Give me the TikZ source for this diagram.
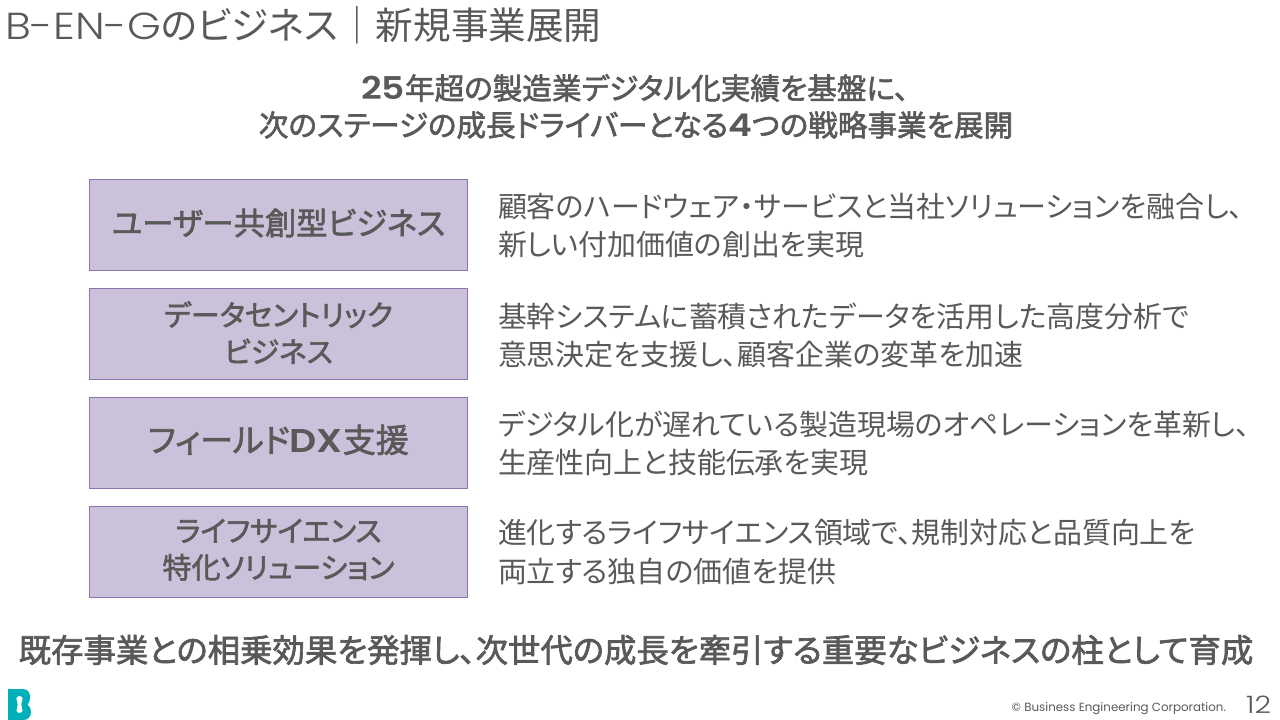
\documentclass[tikz,border=0pt]{standalone}
\usepackage{fontspec}
\setmainfont[RawFeature={+palt}]{Noto Sans CJK JP}
\newfontfamily\medf[RawFeature={+palt},FakeBold=2]{Noto Sans CJK JP}
\newfontfamily\latinf{Poppins}
\newfontfamily\latinl[FakeStretch=1.15]{Poppins Light}
\newfontfamily\latinp[FakeStretch=1.2]{Poppins Light}
\newfontfamily\latinb[FakeStretch=1.15]{Poppins SemiBold}
\definecolor{txt}{HTML}{595959}
\definecolor{boxf}{HTML}{CCC1DA}
\definecolor{boxd}{HTML}{8C75AD}
\definecolor{logo}{HTML}{00B0B9}
\newcommand{\pxs}[1]{\fontsize{#1}{#1}\selectfont}
\begin{document}
\begin{tikzpicture}[x=0.75pt,y=-0.75pt,
 every node/.style={inner sep=0pt,outer sep=0pt,text=txt},
 cat/.style={draw=boxd,line width=0.75pt,fill=boxf,minimum width=378pt*0.75,minimum height=91pt*0.75,anchor=north west},
 catt/.style={font=\medf\pxs{21.7},align=center,text=txt},
 desc/.style={font=\pxs{21.7},align=left,anchor=west,text=txt},
 head/.style={font=\medf\pxs{22.2},anchor=center,text=txt}]
\useasboundingbox (0,0) rectangle (1280,720);
\node[anchor=west,font=\pxs{28.2}] (title) at (5,25) {{\latinl B-EN-G}のビジネス｜新規事業展開};
\node[head] (h1) at (635,88) {{\latinb\pxs{23.5}25}年超の製造業デジタル化実績を基盤に、};
\node[head] (h2) at (636,125) {次のステージの成長ドライバーとなる{\latinb\pxs{23.5}4}つの戦略事業を展開};
\node[cat] (b1) at (89.5,179.5) {}; \node[catt,font=\medf\pxs{23.5}] (t1) at ([yshift=1.5]b1.center) {ユーザー共創型ビジネス};
\node[cat] (b2) at (89.5,288) {}; \node[catt] (t2) at ([yshift=0.75]b2.center) {データセントリック\\[5.8pt]ビジネス};
\node[cat] (b3) at (89.5,397) {}; \node[catt,font=\medf\pxs{24.7}] (t3) at ([yshift=2]b3.center) {フィールド{\latinb DX}支援};
\node[cat] (b4) at (89.5,506) {}; \node[catt] (t4) at ([yshift=1.25]b4.center) {ライフサイエンス\\[5.8pt]特化ソリューション};
\node[desc] (d1) at (498,226) {顧客のハードウェア・サービスと当社ソリューションを融合し、\\[6.8pt]新しい付加価値の創出を実現};
\node[desc] (d2) at (498,335) {基幹システムに蓄積されたデータを活用した高度分析で\\[6.8pt]意思決定を支援し、顧客企業の変革を加速};
\node[desc] (d3) at (498,443) {デジタル化が遅れている製造現場のオペレーションを革新し、\\[6.8pt]生産性向上と技能伝承を実現};
\node[desc] (d4) at (498,552) {進化するライフサイエンス領域で、規制対応と品質向上を\\[6.8pt]両立する独自の価値を提供};
\node[font=\medf\pxs{24.3}] (foot) at (636,650) {既存事業との相乗効果を発揮し、次世代の成長を牽引する重要なビジネスの柱として育成};
\node[anchor=east,font=\latinf\pxs{8.9}] (copy) at (1226,709) {© Business Engineering Corporation.};
\node[anchor=east,font=\latinp\pxs{18}] (pg) at (1271,705) {12};
\fill[logo,even odd rule] (8,689) -- (23,689) .. controls (29,689) and (30,694) .. (30,698) .. controls (30,701) and (29,703) .. (27.5,704.5) .. controls (30,706) and (31,709) .. (31,712) .. controls (31,717) and (28,720) .. (23,720) -- (8,720) -- cycle
 (19.5,696) .. controls (16,696) and (15.5,700) .. (17,702) .. controls (18,703.5) and (18,705.5) .. (17,707) .. controls (15.5,709) and (16,713) .. (19.5,713) .. controls (23,713) and (23.5,709) .. (22,707) .. controls (21,705.5) and (21,703.5) .. (22,702) .. controls (23.5,700) and (23,696) .. (19.5,696) -- cycle;
\end{tikzpicture}
\end{document}
